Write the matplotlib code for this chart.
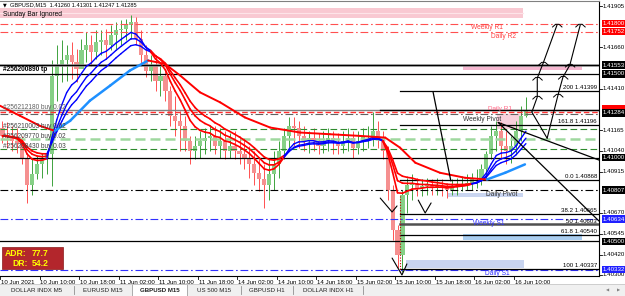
import matplotlib
matplotlib.use('Agg')
import matplotlib.pyplot as plt
import numpy as np
import pandas as pd
from matplotlib.transforms import blended_transform_factory as btf
from matplotlib.patches import Rectangle
from matplotlib.collections import LineCollection

plt.rcParams['font.family'] = ['Liberation Sans', 'DejaVu Sans']

# ---------------- data ----------------
time_labels = ['10 Jun 2021', '10 Jun 10:00', '10 Jun 18:00', '11 Jun 02:00', '11 Jun 10:00',
               '11 Jun 18:00', '14 Jun 02:00', '14 Jun 10:00', '14 Jun 18:00', '15 Jun 02:00',
               '15 Jun 10:00', '15 Jun 18:00', '16 Jun 02:00', '16 Jun 10:00']
label_hours = [0, 8, 16, 24, 32, 40, 48, 56, 64, 72, 80, 88, 96, 104]

first_open = 1.4118
highs = [1.4122, 1.4121, 1.4119, 1.4118, 1.4113, 1.4102, 1.4099, 1.4101, 1.4103, 1.4104,
         1.4158, 1.4167, 1.4170, 1.4167, 1.4169, 1.4165, 1.4171, 1.4175, 1.4173, 1.4176,
         1.4176, 1.4177, 1.4179, 1.4181, 1.4182, 1.4183, 1.4185, 1.4184, 1.4176, 1.4167,
         1.4161, 1.4161, 1.4155, 1.4153, 1.4143, 1.4137, 1.4128, 1.4125, 1.4113, 1.4113,
         1.4116, 1.4118, 1.4119, 1.4119, 1.4118, 1.4116, 1.4115, 1.4116, 1.4113, 1.4112,
         1.4107, 1.4104, 1.4099, 1.4096, 1.4100, 1.4104, 1.4110, 1.4118, 1.4124, 1.4124,
         1.4122, 1.4119, 1.4116, 1.4118, 1.4115, 1.4116, 1.4118, 1.4116, 1.4115, 1.4116,
         1.4118, 1.4116, 1.4116, 1.4118, 1.4119, 1.4127, 1.4122, 1.4116, 1.4107, 1.4084,
         1.4060, 1.4081, 1.4088, 1.4090, 1.4088, 1.4087, 1.4088, 1.4087, 1.4088, 1.4087,
         1.4085, 1.4087, 1.4088, 1.4089, 1.4090, 1.4091, 1.4093, 1.4096, 1.4104, 1.4119,
         1.4122, 1.4121, 1.4116, 1.4113, 1.4122, 1.4131, 1.4136]
lows = [1.4109, 1.4106, 1.4104, 1.4103, 1.4096, 1.4073, 1.4078, 1.4087, 1.4088, 1.4090,
        1.4083, 1.4134, 1.4145, 1.4146, 1.4147, 1.4145, 1.4154, 1.4157, 1.4155, 1.4159,
        1.4161, 1.4159, 1.4164, 1.4165, 1.4167, 1.4170, 1.4171, 1.4167, 1.4155, 1.4148,
        1.4146, 1.4140, 1.4137, 1.4134, 1.4119, 1.4113, 1.4104, 1.4104, 1.4096, 1.4099,
        1.4100, 1.4102, 1.4104, 1.4102, 1.4100, 1.4099, 1.4100, 1.4099, 1.4096, 1.4093,
        1.4088, 1.4084, 1.4080, 1.4070, 1.4075, 1.4081, 1.4088, 1.4099, 1.4104, 1.4107,
        1.4106, 1.4104, 1.4103, 1.4104, 1.4102, 1.4103, 1.4104, 1.4102, 1.4102, 1.4103,
        1.4104, 1.4100, 1.4102, 1.4104, 1.4106, 1.4107, 1.4106, 1.4099, 1.4075, 1.4051,
        1.4034, 1.4032, 1.4067, 1.4075, 1.4077, 1.4077, 1.4078, 1.4078, 1.4078, 1.4077,
        1.4076, 1.4078, 1.4078, 1.4080, 1.4081, 1.4081, 1.4082, 1.4084, 1.4087, 1.4099,
        1.4104, 1.4099, 1.4096, 1.4097, 1.4102, 1.4110, 1.4124]
closes = [1.4113, 1.4112, 1.4110, 1.4109, 1.4099, 1.4084, 1.4090, 1.4096, 1.4099, 1.4102,
          1.4149, 1.4155, 1.4158, 1.4161, 1.4157, 1.4153, 1.4164, 1.4167, 1.4163, 1.4169,
          1.4170, 1.4167, 1.4173, 1.4176, 1.4177, 1.4179, 1.4181, 1.4171, 1.4161, 1.4152,
          1.4155, 1.4146, 1.4149, 1.4140, 1.4125, 1.4122, 1.4119, 1.4110, 1.4104, 1.4107,
          1.4110, 1.4112, 1.4113, 1.4107, 1.4110, 1.4104, 1.4107, 1.4104, 1.4102, 1.4099,
          1.4096, 1.4091, 1.4087, 1.4084, 1.4090, 1.4096, 1.4104, 1.4113, 1.4119, 1.4118,
          1.4113, 1.4110, 1.4112, 1.4110, 1.4107, 1.4110, 1.4112, 1.4109, 1.4107, 1.4110,
          1.4112, 1.4106, 1.4110, 1.4113, 1.4113, 1.4116, 1.4112, 1.4104, 1.4081, 1.4057,
          1.4042, 1.4078, 1.4084, 1.4085, 1.4082, 1.4083, 1.4084, 1.4082, 1.4083, 1.4082,
          1.4081, 1.4083, 1.4084, 1.4084, 1.4085, 1.4087, 1.4088, 1.4093, 1.4102, 1.4113,
          1.4116, 1.4107, 1.4104, 1.4107, 1.4116, 1.4125, 1.41285]

ribbon_spans = [7, 10, 13]

slow_hours = [0, 4.05, 8.1, 11.1, 14.2, 18.2, 22.3, 26.3, 30.0, 33.4, 36.5, 40.5, 44.6,
              49.6, 54.7, 60.8, 66.8, 72.9, 78.0, 81.0, 84.1, 89.1, 94.2, 98.6, 102.3, 106.3]
slow_vals = [1.4131, 1.4125, 1.4119, 1.4116, 1.4122, 1.4134, 1.4143, 1.4152, 1.4158, 1.4156,
             1.4149, 1.4139, 1.4133, 1.4124, 1.4118, 1.4115, 1.4114, 1.4113, 1.4112, 1.4106,
             1.4097, 1.4091, 1.4088, 1.4087, 1.4091, 1.4096]

weekly_r1 = 1.41800
daily_r2 = 1.41752
tp_line_a = 1.41553
tp_line_b = 1.41500
buy_order_1 = 1.41284
daily_r1 = 1.41274
weekly_pivot = 1.41258
buy_orders = [1.41172, 1.41112, 1.41052]
round_level = 1.41000
daily_pivot = 1.40807
weekly_s1 = 1.40634
level_1405 = 1.40500
daily_s1 = 1.40332

fib_start_hour = 81.0
fib_prices = [1.41399, 1.41196, 1.40868, 1.40665, 1.40603, 1.40540, 1.40337]
fib_texts = ['200 1.41399', '161.8 1.41196', '0.0 1.40868', '38.2 1.40665', '50 1.40603',
             '61.8 1.40540', '100 1.40337']

# zones: (start hour, end hour, low price, high price)
zone_top = (0, 105.9, 1.41833, 1.41893)
zone_pink = (93.8, 117.9, 1.41523, 1.41553)
zone_pink_r1 = (100.7, 105.6, 1.41170, 1.41262)
zone_pivot = (90.7, 105.9, 1.40766, 1.40790)
zone_blue = (93.8, 117.9, 1.40509, 1.40545)
zone_s1 = (82.2, 106.1, 1.40342, 1.40389)

# hand drawn lines (hour, price)
trend1 = [(87.7, 1.41392), (91.3, 1.40861)]
trend2 = [(100.9, 1.41210), (121.3, 1.40986)]
trend3 = [(100.9, 1.41210), (121.3, 1.40622)]
arrow1 = [(107.7, 1.41272), (108.8, 1.41362), (108.8, 1.41475), (110.0, 1.41565), (112.8, 1.41792)]
arrow2 = [(110.8, 1.41116), (113.0, 1.41374), (114.0, 1.41481), (115.4, 1.41553), (117.5, 1.41792)]
vee = [(107.7, 1.41272), (110.8, 1.41116)]
check1 = [(77.0, 1.40759), (79.4, 1.40676), (80.4, 1.40712)]
check2 = [(84.7, 1.40747), (86.1, 1.40670), (87.3, 1.40730)]
check3 = [(79.4, 1.40401), (81.4, 1.40300), (82.4, 1.40366)]

right_ticks = [1.41905, 1.41660, 1.41410, 1.41165, 1.41040, 1.40915, 1.40670, 1.40545, 1.40420, 1.40300]
boxed = [(1.41800, '#ff0000'), (1.41752, '#ff0000'), (1.41553, '#000000'), (1.41500, '#000000'),
         (1.41284, '#000000'), (1.41000, '#000000'), (1.40807, '#000000'), (1.40634, '#2020ff'),
         (1.40500, '#000000'), (1.40332, '#2020ff')]
hidden_red_marker = 1.41292

tabs = ['DOLLAR INDX M5', 'EURUSD M15', 'GBPUSD M15', 'US 500 M15', 'GBPUSD H1', 'DOLLAR INDX H1']
tab_edges = [0, 74, 132, 187, 241, 293, 363]
active_tab = 2

# ---------------- figure ----------------
W, H = 625, 296
fig = plt.figure(figsize=(W / 100, H / 100), dpi=100)
ax = fig.add_axes([0, 1 - 276 / H, 599 / W, 275 / H])
ax.set_xlim(0, 121.3)
ax.set_ylim(1.40294, 1.41935)
ax.set_xticks([]); ax.set_yticks([])
ax.spines['left'].set_visible(False)
ax.spines['top'].set_color('#808080')
ax.spines['top'].set_linewidth(0.8)
ax.spines['right'].set_linewidth(0.8)
ax.spines['bottom'].set_linewidth(0.8)

FS = 4.4

def zone(z, color, zo=1):
    ax.add_patch(Rectangle((z[0], z[2]), z[1] - z[0], z[3] - z[2], fc=color, ec='none', zorder=zo))

zone(zone_top, '#f9c9d2')
ax.plot([zone_top[0], zone_top[1]], [(zone_top[2] + zone_top[3]) / 2] * 2, color='#fde4e8', lw=0.8, zorder=1)
zone(zone_pink, '#f6b7d0')
zone(zone_pink_r1, '#f9d0dc')
zone(zone_pivot, '#c9d5f0')
zone(zone_blue, '#a9cdf0')
zone(zone_s1, '#c9d5f0')

# candles
n = len(closes)
opens = [first_open] + closes[:-1]
xs = np.arange(n) + 0.5
for i in range(n):
    up = closes[i] >= opens[i]
    wc = '#3fa33f' if up else '#ff5050'
    bc = '#86d086' if up else '#f59090'
    ax.vlines(xs[i], lows[i], highs[i], color=wc, lw=0.7, zorder=2)
    lo, hi = sorted([opens[i], closes[i]])
    ax.add_patch(Rectangle((xs[i] - 0.42, lo), 0.84, max(hi - lo, 0.00002), fc=bc, ec='none', zorder=2))

# horizontal lines
full = (0, 121.3)
DD = (0, (7, 2.5, 1.5, 2.5))
ax.plot(full, [weekly_r1] * 2, color='#ff5050', lw=0.8, ls=DD, zorder=3)
ax.plot(full, [daily_r2] * 2, color='#ff5050', lw=0.8, ls=DD, zorder=3)
ax.plot(full, [tp_line_a] * 2, color='#9a9a9a', lw=1.8, zorder=3)
ax.plot(full, [tp_line_a] * 2, color='#000000', lw=0.9, zorder=3)
ax.plot(full, [tp_line_b] * 2, color='#000000', lw=0.9, zorder=3)
ax.plot(full, [buy_order_1] * 2, color='#808080', lw=1.0, zorder=3)
ax.plot((77, 121.3), [buy_order_1] * 2, color='#000000', lw=1.0, zorder=3)
ax.plot(full, [daily_r1] * 2, color='#ff3030', lw=1.0, ls=(0, (4, 2)), zorder=3)
ax.plot(full, [weekly_pivot] * 2, color='#606060', lw=0.8, ls=DD, zorder=3)
ax.plot(full, [buy_orders[0]] * 2, color='#2e8b2e', lw=0.8, ls=(0, (6, 3)), zorder=3)
ax.plot(full, [buy_orders[1]] * 2, color='#9fd89f', lw=1.8, ls=(0, (4, 2)), zorder=3)
ax.plot(full, [buy_orders[2]] * 2, color='#2e8b2e', lw=0.8, ls=(0, (6, 3)), zorder=3)
ax.plot(full, [round_level] * 2, color='#000000', lw=0.9, zorder=3)
ax.plot(full, [daily_pivot] * 2, color='#000000', lw=0.8, ls=DD, zorder=3)
ax.plot(full, [weekly_s1] * 2, color='#3030ff', lw=0.8, ls=DD, zorder=3)
ax.plot(full, [level_1405] * 2, color='#000000', lw=0.9, zorder=3)
ax.plot(full, [daily_s1] * 2, color='#3030ff', lw=0.8, ls=DD, zorder=3)

# fib
for fp, ft in zip(fib_prices, fib_texts):
    lw = 1.8 if ft.startswith('50 ') else 0.9
    col = '#505050' if ft.startswith('50 ') else '#000000'
    ax.plot((fib_start_hour, 121.3), (fp, fp), color=col, lw=lw, zorder=3)
    ax.text(120.9, fp + 0.00004, ft, fontsize=FS, ha='right', va='bottom', color='#000000', zorder=6)

ax.plot((fib_start_hour, fib_start_hour), (lows[81], 1.4077), color='#c00000', lw=0.8, ls=(0, (1, 1.5)), zorder=3)

# ribbons
cs = pd.Series(closes)
emas = [cs.ewm(span=s, adjust=False).mean().values for s in ribbon_spans]
up_state = emas[0] > emas[-1]
for k, e in enumerate(emas):
    segs, cols, lws = [], [], []
    for i in range(n - 1):
        segs.append([(xs[i], e[i]), (xs[i + 1], e[i + 1])])
        if up_state[i + 1]:
            cols.append('#0000ff'); lws.append(1.0)
        else:
            cols.append('#ff0000'); lws.append(1.2)
    ax.add_collection(LineCollection(segs, colors=cols, linewidths=lws, zorder=4, capstyle='round'))

# slow MA
segs, cols, lws = [], [], []
for i in range(len(slow_hours) - 1):
    segs.append([(slow_hours[i], slow_vals[i]), (slow_hours[i + 1], slow_vals[i + 1])])
    rising = slow_vals[i + 1] > slow_vals[i]
    cols.append('#1e90ff' if rising else '#ff0000')
    lws.append(1.8 if rising else 1.4)
ax.add_collection(LineCollection(segs, colors=cols, linewidths=lws, zorder=4, capstyle='round'))

# hand drawings
def draw(pts, lw=0.9):
    t, p = zip(*pts)
    ax.plot(t, p, color='#000000', lw=lw, zorder=5, solid_capstyle='round')

for tl in (trend1, trend2, trend3):
    draw(tl, 0.9)
for pts in (arrow1, arrow2, vee, check1, check2, check3):
    draw(pts, 0.8)
for pts in (arrow1, arrow2):
    for (t, p) in pts[1:]:
        ax.plot([t - 0.9, t - 0.3, t + 0.4, t + 1.0], [p - 0.00012, p + 0.00004, p + 0.00004, p - 0.00012],
                color='#000000', lw=0.7, zorder=5)

# level texts
ax.text(98.6, 1.41776, 'Weekly R1', color='#ff4040', fontsize=FS + 0.4, ha='center', va='center', zorder=6)
ax.text(101.9, 1.41724, 'Daily R2', color='#ff4040', fontsize=FS + 0.4, ha='center', va='center', zorder=6)
ax.text(101.2, 1.41292, 'Daily R1', color='#ff6080', fontsize=FS + 0.2, ha='center', va='center', zorder=6)
ax.text(97.6, 1.41226, 'Weekly Pivot', color='#303030', fontsize=FS + 0.4, ha='center', va='center', zorder=6)
ax.text(101.5, 1.40778, 'Daily Pivot', color='#303030', fontsize=FS + 0.4, ha='center', va='center', zorder=6)
ax.text(99.0, 1.40610, 'Weekly S1', color='#3030ff', fontsize=FS + 0.4, ha='center', va='center', zorder=6)
ax.text(100.8, 1.40308, 'Daily S1', color='#3030ff', fontsize=FS + 0.4, ha='center', va='center', zorder=6)

ax.text(0.6, (tp_line_a + tp_line_b) / 2, '#256200890 tp', color='#000000', fontsize=FS + 0.3,
        fontweight='bold', ha='left', va='center', zorder=6)
ax.text(0.6, buy_order_1 + 0.00018, '#256212180 buy 0.02', color='#606060', fontsize=FS + 0.3, ha='left', va='center', zorder=6)
ax.text(0.6, buy_orders[0] + 0.00016, '#256210003 buy 0.02', color='#404040', fontsize=FS + 0.3, ha='left', va='center', zorder=6)
ax.text(0.6, buy_orders[1] + 0.00016, '#256209770 buy 0.02', color='#404040', fontsize=FS + 0.3, ha='left', va='center', zorder=6)
ax.text(0.6, buy_orders[2] + 0.00016, '#256208430 buy 0.03', color='#404040', fontsize=FS + 0.3, ha='left', va='center', zorder=6)

# ADR box
fig.patches.append(Rectangle((2 / W, 1 - 269 / H), 61 / W, 22 / H, transform=fig.transFigure,
                             fc='#b3262c', ec='#8a1a1a', lw=0.5, zorder=10))
fig.text(5 / W, 1 - 253 / H, 'ADR:', color='#ffff00', fontsize=6.2, fontweight='bold', va='center', zorder=11)
fig.text(32 / W, 1 - 253 / H, '77.7', color='#ffff00', fontsize=6.2, fontweight='bold', va='center', zorder=11)
fig.text(12 / W, 1 - 264 / H, 'DR:', color='#ffff00', fontsize=6.2, fontweight='bold', va='center', zorder=11)
fig.text(32 / W, 1 - 264 / H, '54.2', color='#ffff00', fontsize=6.2, fontweight='bold', va='center', zorder=11)

# title
fig.text(3 / W, 1 - 5 / H, '\u25bc', fontsize=3.5, color='#000000', va='center', family='DejaVu Sans')
fig.text(10 / W, 1 - 5 / H, 'GBPUSD,M15  1.41260 1.41301 1.41247 1.41285', fontsize=4.1, color='#000000', va='center')
fig.text(3 / W, 1 - 15 / H, 'Sunday Bar Ignored', fontsize=FS + 0.4, color='#000000', va='center')

# right axis
tr = btf(ax.transAxes, ax.transData)
for p in right_ticks:
    ax.plot([1.0, 1.0 + 3 / 599], [p, p], color='#000000', lw=0.6, transform=tr, clip_on=False)
    ax.text(1.0 + 4 / 599, p, '%.5f' % p, fontsize=FS, color='#000000', ha='left', va='center',
            transform=tr, clip_on=False)
# partly hidden red price box behind the 1.41284 label
ax.add_patch(Rectangle((1.0 + 3 / 599, hidden_red_marker - 0.00024), 24 / 599, 0.00044, transform=tr,
                       fc='#ff0000', ec='none', clip_on=False, zorder=7))
for p, c in boxed:
    yy = p - 0.00017 if abs(p - 1.41284) < 1e-7 else p
    ax.text(1.0 + 4 / 599, yy, '%.5f' % p, fontsize=FS, color='#ffffff', ha='left', va='center',
            transform=tr, clip_on=False, bbox=dict(boxstyle='square,pad=0.2', fc=c, ec='none'), zorder=8)

# time axis
trx = btf(ax.transData, ax.transAxes)
for h, lab in zip(label_hours, time_labels):
    ax.plot([h, h], [0, -3 / 275], color='#000000', lw=0.6, transform=trx, clip_on=False)
    ax.text(h + 0.2, -6 / 275, lab, fontsize=FS, color='#000000', ha='left', va='center',
            transform=trx, clip_on=False)

# bottom tabs
fig.patches.append(Rectangle((0, 0), 1, 12 / H, transform=fig.transFigure, fc='#f0f0f0', ec='none', zorder=0))
fig.add_artist(plt.Line2D([0, 1], [12 / H, 12 / H], transform=fig.transFigure, color='#c8c8c8', lw=0.6))
for k, name in enumerate(tabs):
    x0, x1 = tab_edges[k], tab_edges[k + 1]
    if k == active_tab:
        fig.patches.append(Rectangle((x0 / W, 0), (x1 - x0) / W, 12.5 / H, transform=fig.transFigure,
                                     fc='#ffffff', ec='#a0a0a0', lw=0.6, zorder=1))
    fig.text((x0 + x1) / 2 / W, 5.5 / H, name, fontsize=FS, ha='center', va='center',
             color='#202020', fontweight='bold' if k == active_tab else 'normal', zorder=2)
    if k != active_tab and k + 1 != active_tab:
        fig.add_artist(plt.Line2D([x1 / W, x1 / W], [2 / H, 10 / H], transform=fig.transFigure, color='#909090', lw=0.6))
fig.text(608 / W, 5 / H, '\u25c0', fontsize=3, color='#808080', ha='center', va='center', family='DejaVu Sans')
fig.text(619 / W, 5 / H, '\u25b6', fontsize=3, color='#808080', ha='center', va='center', family='DejaVu Sans')

fig.savefig('out.png', dpi=100)
